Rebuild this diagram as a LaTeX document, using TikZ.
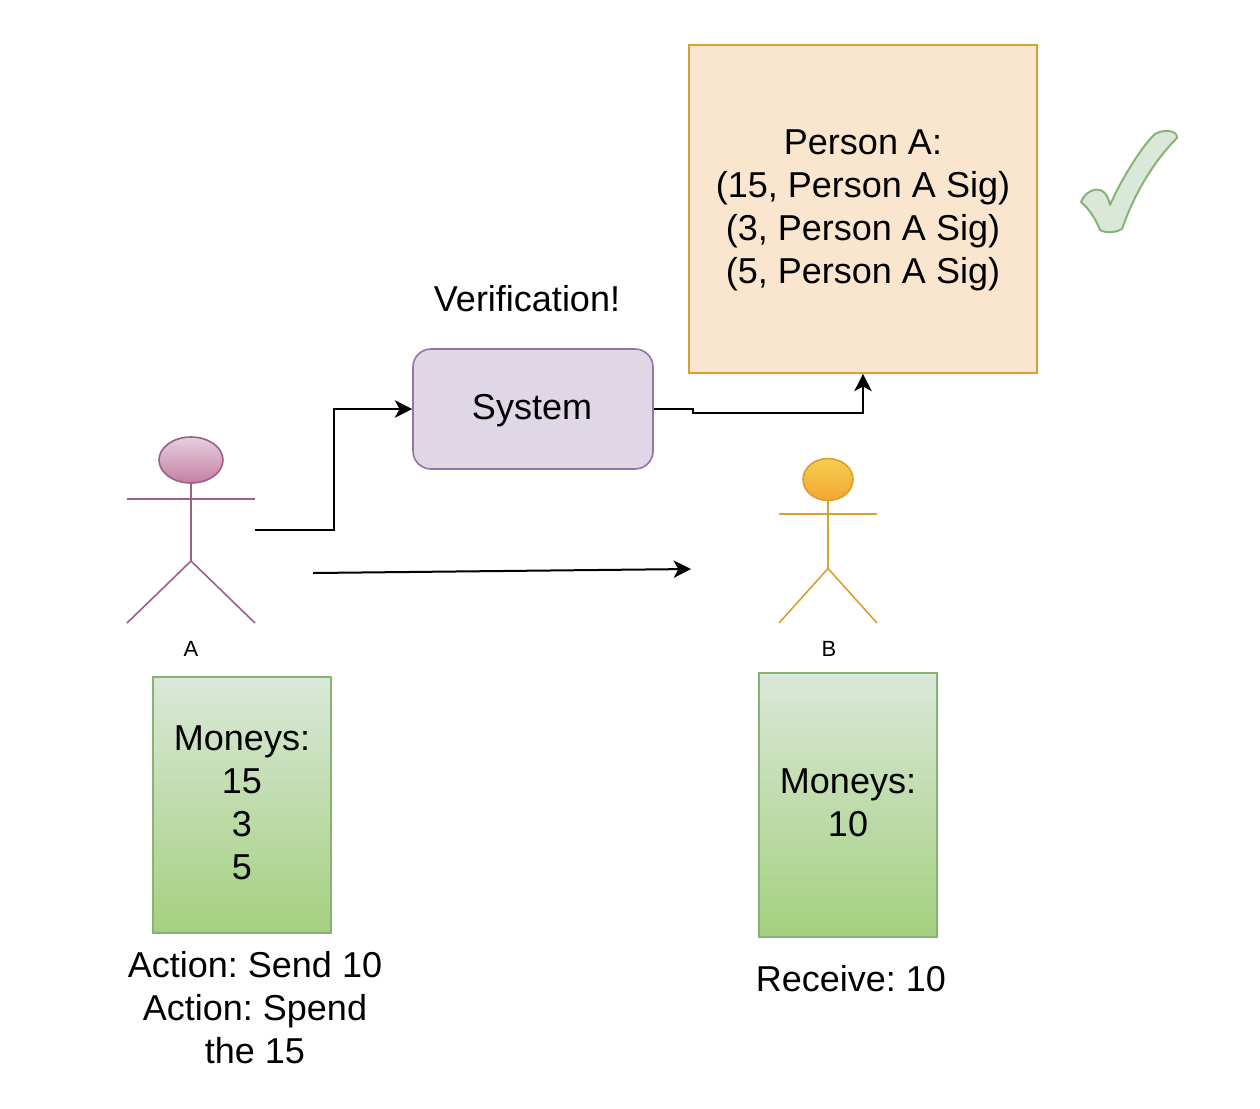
\documentclass[tikz,border=0pt]{standalone}
\usepackage{fontspec}
\setmainfont{Liberation Sans}
\usetikzlibrary{shapes.geometric,arrows.meta}
\frenchspacing
\definecolor{orfill}{HTML}{FAE6CF}
\definecolor{orline}{HTML}{D6A033}
\definecolor{pufill}{HTML}{DFD6E6}
\definecolor{puline}{HTML}{9673A6}
\definecolor{grtop}{HTML}{DAE8D9}
\definecolor{grbot}{HTML}{A4D07F}
\definecolor{grline}{HTML}{88B375}
\definecolor{chfill}{HTML}{DAE8D9}
\definecolor{atop}{HTML}{E6D0DE}
\definecolor{abot}{HTML}{C47FA3}
\definecolor{aline}{HTML}{996185}
\definecolor{btop}{HTML}{F6CE4E}
\definecolor{bbot}{HTML}{F3A633}
\newcommand{\upfix}[1]{\rule[-#1]{0pt}{#1}}
\newcommand{\downfix}[1]{\rule{0pt}{#1}}
\tikzset{
  big/.style={font=\fontsize{27}{32.25}\selectfont,align=center,inner sep=0pt},
  small/.style={font=\fontsize{16.5}{19}\selectfont,inner sep=0pt},
  link/.style={line width=1.5pt,black,-{Stealth[length=13pt,width=13pt,inset=3.5pt]}},
  orbox/.style={big,draw=orline,fill=orfill,line width=1.2pt,minimum width=261pt,minimum height=246pt},
  sysbox/.style={big,draw=puline,fill=pufill,line width=1.2pt,rounded corners=13.5pt,minimum width=180pt,minimum height=90pt},
  grbox/.style={big,draw=grline,top color=grtop,bottom color=grbot,line width=1.2pt,minimum width=133.5pt},
  ahead/.style={ellipse,draw=aline,top color=atop,bottom color=abot,line width=1.2pt,minimum width=48pt,minimum height=34.5pt,inner sep=0pt},
  bhead/.style={ellipse,draw=orline,top color=btop,bottom color=bbot,line width=1.2pt,minimum width=37.5pt,minimum height=31.5pt,inner sep=0pt},
  alimb/.style={draw=aline,line width=1.2pt},
  blimb/.style={draw=orline,line width=1.2pt}
}
\begin{document}
\begin{tikzpicture}[x=0.75pt,y=-0.75pt]
\useasboundingbox (0,0) rectangle (1260,1108);
% boxes
\node[orbox] (ledger) at (863,209) {\downfix{20.2pt}Person A:\\(15, Person A Sig)\\(3, Person A Sig)\\(5, Person A Sig)};
\node[sysbox] (system) at (533,409) {\downfix{21.5pt}System\kern1.5pt};
\node[big] (verify) at (527,299) {Verification!};
\node[grbox,minimum height=192pt] (moneyA) at (242,805) {Moneys:\\15\\3\\5\upfix{3pt}};
\node[grbox,minimum height=198pt] (moneyB) at (848,805) {Moneys:\\10\upfix{3pt}};
\node[big] (actionA) at (255,1008) {Action: Send 10\\Action: Spend\\the 15};
\node[big] (actionB) at (851,979) {Receive: 10};
% actor A
\node[ahead] (headA) at (191,460) {};
\coordinate (armLA) at (127,499);
\coordinate (armRA) at (255,499);
\coordinate (hipA) at (191,561);
\coordinate (legLA) at (127,623);
\coordinate (legRA) at (255,623);
\draw[alimb] (headA.south) -- (hipA);
\draw[alimb] (armLA) -- (armRA);
\draw[alimb,line join=round] (legLA) -- (hipA) -- (legRA);
\node[small] (labelA) at (191,649) {A};
% actor B
\node[bhead] (headB) at (828,479.5) {};
\coordinate (armLB) at (779,514);
\coordinate (armRB) at (877,514);
\coordinate (hipB) at (828,568.5);
\coordinate (legLB) at (779,623);
\coordinate (legRB) at (877,623);
\draw[blimb] (headB.south) -- (hipB);
\draw[blimb] (armLB) -- (armRB);
\draw[blimb,line join=round] (legLB) -- (hipB) -- (legRB);
\node[small] (labelB) at (829,649) {B};
% connectors
\coordinate (startSys) at (255,530);
\coordinate (startB) at (313,573);
\coordinate (endB) at (691,569);
\draw[link] (startSys) -- (334,530) -- (334,409) -- (system.west);
\draw[link] (startB) -- (endB);
\draw[link] (system.east) -- (693,409) -- (693,413) -- (863,413) -- (ledger.south);
% check mark
\draw[draw=grline,fill=chfill,line width=1.5pt,line join=round]
  (1081,202) .. controls (1085,190) and (1105,180) .. (1110,205)
  .. controls (1122,178) and (1142,146) .. (1155,134)
  .. controls (1163,129) and (1178,130) .. (1177,138)
  .. controls (1150,165) and (1132,200) .. (1122,229)
  .. controls (1115,233) and (1105,233) .. (1100,230)
  .. controls (1095,218) and (1090,210) .. cycle;
\end{tikzpicture}
\end{document}
